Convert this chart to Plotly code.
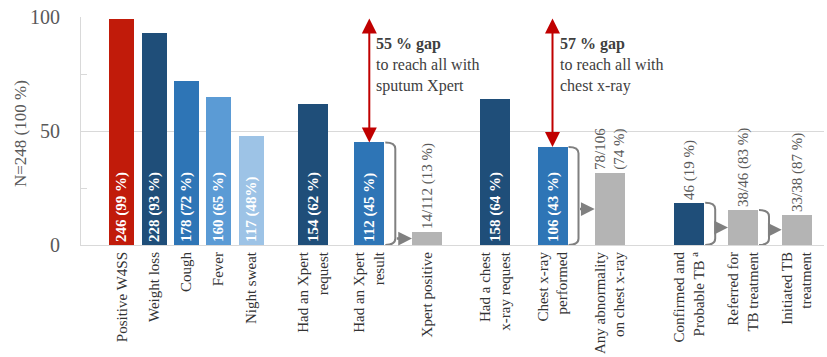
import plotly.graph_objects as go

# ---------------- data ----------------
categories = [
    "Positive W4SS", "Weight loss", "Cough", "Fever", "Night sweat",
    "Had an Xpert<br>request", "Had an Xpert<br>result", "Xpert positive",
    "Had a chest<br>x-ray request", "Chest x-ray<br>performed",
    "Any abnormality<br>on chest x-ray",
    "Confirmed and<br>Probable TB <sup>a</sup>", "Referred for<br>TB treatment",
    "Initiated TB<br>treatment",
]
values = [99, 93, 72, 65, 48, 62, 45, 5.6, 64, 43, 31.5, 18.5, 15.3, 13.3]
bar_labels = [
    "246 (99 %)", "228 (93 %)", "178 (72 %)", "160 (65 %)", "117 (48%)",
    "154 (62 %)", "112 (45 %)", "14/112 (13 %)", "158 (64 %)", "106 (43 %)",
    "78/106<br>(74 %)", "46 (19 %)", "38/46 (83 %)", "33/38 (87 %)",
]
label_inside = [True, True, True, True, True, True, True, False,
                True, True, False, False, False, False]
bar_colors = [
    "#C11B0A", "#1F4E79", "#2E75B6", "#5B9BD5", "#9DC3E6",
    "#1F4E79", "#2E75B6", "#B4B4B4", "#1F4E79", "#2E75B6", "#B4B4B4",
    "#1F4E79", "#B4B4B4", "#B4B4B4",
]
# slot positions / widths of the bars along the x axis
x_pos = [121.8, 154, 186.3, 218.5, 251, 313.3, 369.3, 427, 495, 552.5,
         609.7, 689.2, 743, 796.7]
bar_w = [25, 25, 25, 25, 25, 30, 30, 30, 30, 30, 30, 30, 30, 30]

# gap annotations (bar index, gap %, last line)
gap_bars = [6, 9]
gap_pct = [55, 57]
gap_lines = ["sputum Xpert", "chest x-ray"]

# flow brackets: source bar -> target bar
flow_pairs = [(6, 7), (9, 10), (11, 12), (12, 13)]

y_ticks = [0, 50, 100]
y_minor = [25, 75]

SERIF = "Liberation Serif"
GREY_TXT = "#595959"
FLOW = "#808080"
RED = "#C00000"

fig = go.Figure()
fig.add_trace(go.Bar(
    x=x_pos, y=values, width=bar_w,
    marker=dict(color=bar_colors, line=dict(width=0)),
    text=bar_labels,
    texttemplate="%{text}",
    textposition=["inside" if b else "outside" for b in label_inside],
    insidetextanchor="start",
    textangle=-90,
    constraintext="none",
    cliponaxis=False,
    textfont=dict(
        family=SERIF, size=15,
        color=["white" if b else GREY_TXT for b in label_inside],
        weight=["bold" if b else "normal" for b in label_inside],
    ),
    hoverinfo="skip",
    showlegend=False,
))

shapes = []
annotations = []

# red double arrows + gap text
for bi, pct, line3 in zip(gap_bars, gap_pct, gap_lines):
    annotations.append(dict(
        x=x_pos[bi], y=values[bi], ax=x_pos[bi], ay=100,
        xref="x", yref="y", axref="x", ayref="y",
        showarrow=True, arrowhead=2, startarrowhead=2, arrowside="end+start",
        arrowsize=1.5, startarrowsize=1.5, arrowwidth=2, arrowcolor=RED, text="",
    ))
    annotations.append(dict(
        x=x_pos[bi], y=79, xref="x", yref="y", xanchor="left", yanchor="middle",
        xshift=5, showarrow=False, align="left",
        text=f"<b>{pct} % gap</b><br>to reach all with<br>{line3}",
        font=dict(family=SERIF, size=16, color="#404040"),
    ))

# brackets and flow arrows
for s, t in flow_pairs:
    xr = x_pos[s] + bar_w[s] / 2 + 1
    xb = xr + 10
    ytop = values[s]
    r = 2.8
    shapes.append(dict(
        type="path", xref="x", yref="y",
        path=(f"M {xr},{ytop} Q {xb},{ytop} {xb},{ytop - r} "
              f"L {xb},{r} Q {xb},0 {xr},0"),
        line=dict(color=FLOW, width=2),
    ))
    xt = x_pos[t] - bar_w[t] / 2
    ym = values[t] / 2
    annotations.append(dict(
        x=xt, y=ym, ax=xb, ay=ym,
        xref="x", yref="y", axref="x", ayref="y",
        showarrow=True, arrowhead=2, arrowsize=1.1, arrowwidth=2.5,
        arrowcolor=FLOW, text="",
    ))

# y-axis title
annotations.append(dict(
    x=0, y=0.5, xref="paper", yref="paper", xshift=-61, yshift=-3,
    xanchor="center", yanchor="middle", textangle=-90, showarrow=False,
    text="N=248 (100 %)", font=dict(family=SERIF, size=17, color=GREY_TXT),
))

fig.update_layout(
    width=827, height=357,
    margin=dict(l=81, r=3, t=17, b=110),
    paper_bgcolor="white", plot_bgcolor="white",
    bargap=0,
    font=dict(family=SERIF),
    shapes=shapes,
    annotations=annotations,
    xaxis=dict(
        range=[81, 824], tickvals=x_pos, ticktext=categories, tickangle=-90,
        tickfont=dict(family=SERIF, size=15, color="#333333"),
        showgrid=False, zeroline=False, showline=True, linecolor="#d9d9d9",
        linewidth=1, ticks="",
    ),
    yaxis=dict(
        range=[0, 100], tickvals=y_ticks,
        tickfont=dict(family=SERIF, size=20, color=GREY_TXT),
        showgrid=True, gridcolor="#d9d9d9", gridwidth=1, zeroline=False,
        showline=True, linecolor="#d9d9d9", ticks="", ticklabelstandoff=16,
        minor=dict(tickvals=y_minor, ticks="inside", ticklen=6,
                   tickcolor="#d9d9d9", showgrid=False),
    ),
)

fig.write_html("out.html")
